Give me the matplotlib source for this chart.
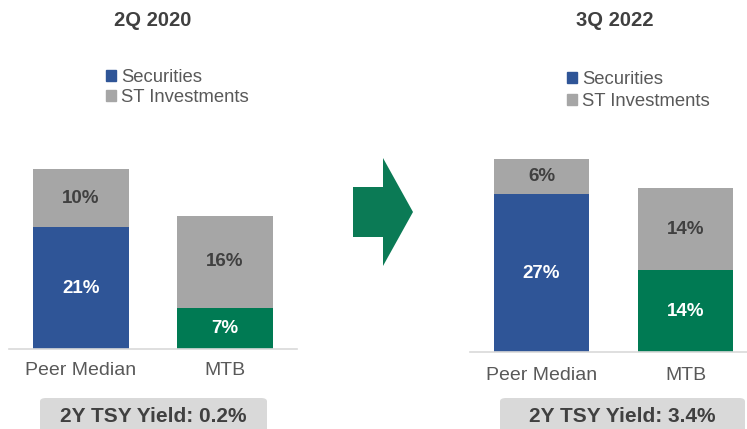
import matplotlib
matplotlib.use("Agg")
import matplotlib.pyplot as plt
from matplotlib.patches import Patch, Polygon, FancyBboxPatch

plt.rcParams['font.family'] = ['Liberation Sans', 'DejaVu Sans']

# data
categories = ['Peer Median', 'MTB']
sec_2020 = [21, 7]
st_2020 = [10, 16]
sec_2022 = [27, 14]
st_2022 = [6, 14]
titles = ['2Q 2020', '3Q 2022']
yield_labels = ['2Y TSY Yield: 0.2%', '2Y TSY Yield: 3.4%']

BLUE = '#2F5597'
GREEN = '#007A53'
GRAY = '#A6A6A6'
DARK = '#404040'
MID = '#595959'

W, H = 747, 429
fig = plt.figure(figsize=(W / 100, H / 100), dpi=100)


def px(x, y):
    # pixel (from top-left) -> figure fraction
    return x / W, 1 - y / H


def panel(left, base, scale, sec, st, title, title_x, leg_xy, leg_space,
          pad, box, label):
    height = 200
    ax = fig.add_axes([left / W, (H - base) / H, 288 / W, height / H])
    x = range(len(categories))
    sec_colors = [BLUE, GREEN]
    ax.bar(x, sec, width=0.665, color=sec_colors, zorder=2)
    ax.bar(x, st, bottom=sec, width=0.665, color=GRAY, zorder=2)
    for i in x:
        ax.text(i, sec[i] / 2, f'{sec[i]}%', ha='center', va='center',
                color='white', fontsize=13.5, fontweight='bold')
        ax.text(i, sec[i] + st[i] / 2, f'{st[i]}%', ha='center', va='center',
                color=DARK, fontsize=13.5, fontweight='bold')
    ax.set_xlim(-0.5, 1.5)
    ax.set_ylim(0, height / scale)
    ax.set_xticks(list(x))
    ax.set_xticklabels(categories, fontsize=14, color=MID)
    ax.tick_params(axis='x', length=0, pad=pad)
    ax.set_yticks([])
    for s in ['top', 'right', 'left']:
        ax.spines[s].set_visible(False)
    ax.spines['bottom'].set_color('#D9D9D9')
    ax.spines['bottom'].set_linewidth(1.2)

    fx, fy = px(title_x, 20)
    fig.text(fx, fy, title, ha='center', va='center', fontsize=14.5,
             fontweight='bold', color=DARK)

    handles = [Patch(color=BLUE, label='Securities'),
               Patch(color=GRAY, label='ST Investments')]
    lx, ly = px(*leg_xy)
    fig.legend(handles=handles, loc='upper left', bbox_to_anchor=(lx, ly),
               bbox_transform=fig.transFigure, frameon=False, fontsize=13.3,
               handlelength=0.55, handleheight=0.55, handletextpad=0.25,
               labelspacing=leg_space, borderpad=0, borderaxespad=0,
               labelcolor=MID)

    bx0, by0, bx1, by1 = box
    fx0, fy1 = px(bx0, by1)
    fig.patches.append(FancyBboxPatch(
        (fx0, fy1), (bx1 - bx0) / W, (by1 - by0) / H,
        boxstyle='round,pad=0,rounding_size=0.008',
        transform=fig.transFigure, facecolor='#D9D9D9', edgecolor='none'))
    cx, cy = px((bx0 + bx1) / 2, (by0 + by1) / 2 + 1)
    fig.text(cx, cy, label, ha='center', va='center', fontsize=15,
             fontweight='bold', color=DARK)


panel(9, 349, 5.8, sec_2020, st_2020, titles[0], 153, (106, 69), 0.15,
      9.5, (40, 398, 267, 432), yield_labels[0])
panel(469.5, 352, 5.85, sec_2022, st_2022, titles[1], 615, (567, 71), 0.28,
      11, (500, 398, 745, 432), yield_labels[1])

# arrow between the panels
arrow_pts = [(353, 187), (383, 187), (383, 158), (413, 212),
             (383, 266), (383, 237), (353, 237)]
fig.patches.append(Polygon([px(a, b) for a, b in arrow_pts], closed=True,
                           transform=fig.transFigure, facecolor='#0B7A55',
                           edgecolor='none'))

fig.savefig('out.png', dpi=100, facecolor='white')
